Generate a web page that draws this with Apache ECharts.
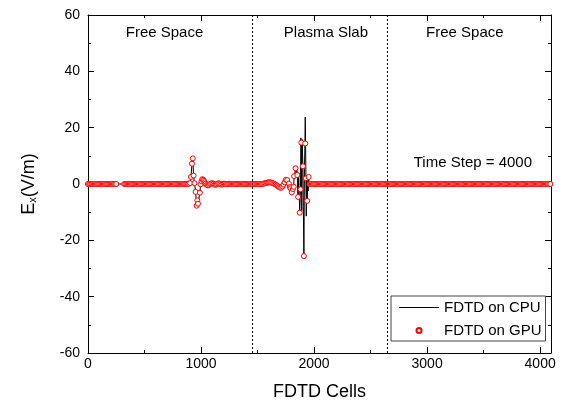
<!DOCTYPE html>
<html><head><meta charset="utf-8">
<script src="https://cdn.jsdelivr.net/npm/echarts@6/dist/echarts.min.js"></script>
<style>html,body{margin:0;padding:0;background:#fff}#c{width:563px;height:407px}</style>
</head><body><div id="c"></div>
<script>
const FONT = '"Liberation Sans", Arial, Helvetica, sans-serif';

// ---- axes ----
const cellMin = 0, cellMax = 4096, cellInterval = 1000;
const exMin = -60, exMax = 60, exInterval = 20;

// ---- region boundaries (dotted lines) ----
const slabBounds = [1450, 2650];

// ---- baseline GPU markers every N cells (value 0) ----
const baselineStep = 10;
const gpuGap = [260, 310];  // small white gap in the marker band

// ---- first pulse in free space [cell, Ex] (both solvers) ----
const pulse1 = [[880,0],[890,0.1],[903,0.3],[911,2.5],[920,7.2],[927,9.1],[934,3.0],[942,0.3],
  [952,-2.8],[961,-7.7],[967,-5.8],[973,-7.0],[990,-3.1],[996,-0.1],[1004,1.0],[1011,1.7],
  [1018,1.5],[1026,1.1],[1033,0.6],[1040,0.1],[1050,-0.3],[1061,-0.5],[1070,-0.3],[1080,0.0],
  [1090,0.2],[1100,0.3],[1110,0.1],[1120,-0.2],[1130,-0.3],[1140,-0.1],[1150,0.2],[1160,0.2],
  [1170,0.0],[1180,-0.2],[1190,-0.1],[1200,0.1],[1210,0.1],[1220,0.0],[1230,-0.1],[1240,0.0],
  [1250,0.1],[1260,0],[1270,0],[1280,0],[1290,0],[1300,0]];

// ---- weak wave ahead of the slab pulse [cell, Ex] ----
const preSlab = [[1540,0],[1550,0.1],[1560,0.2],[1570,0.3],[1580,0.4],[1590,0.5],[1600,0.6],
  [1610,0.6],[1620,0.5],[1630,0.4],[1640,0.2],[1650,0.0],[1660,-0.2],[1670,-0.5],[1680,-0.8],
  [1690,-1.1],[1700,-1.3],[1710,-1.3],[1720,-0.9],[1730,-0.2],[1740,0.6],[1750,1.5]];

// ---- pulse inside the plasma slab: GPU samples [cell, Ex] ----
const slabGpu = [[1762,1.4],[1777,0.1],[1786,-1.1],[1792,-1.5],[1803,-3.0],[1812,-1.8],[1820,-1.0],
  [1823,2.8],[1836,5.6],[1852,3.2],[1859,-4.6],[1873,-10.2],[1880,-1.9],[1887,14.7],[1901,6.3],
  [1910,-25.6],[1922,14.4],[1928,2.0],[1939,-6.0],[1952,2.5]];

// ---- pulse inside the plasma slab: CPU samples [cell, Ex] ----
const slabCpu = [[1756,1.7],[1762,1.4],[1770,0.6],[1777,0.1],[1786,-1.1],[1792,-1.5],[1800,-2.9],
  [1806,-3.1],[1812,-1.8],[1820,-1.0],[1823,2.8],[1830,4.0],[1836,5.6],[1842,3.5],[1848,4.8],
  [1852,3.2],[1856,-3.8],[1859,-4.6],[1864,3.8],[1868,4.4],[1873,-10.2],[1877,-10.8],[1880,-1.9],
  [1883,16.4],[1887,14.7],[1891,-9.5],[1895,15.8],[1901,6.3],[1905,-8.0],[1910,-25.6],[1915,5.0],
  [1919,14.4],[1922,23.8],[1925,14.4],[1928,2.0],[1931,-11.4],[1935,3.0],[1939,-6.0],[1944,1.5],
  [1948,-2.5],[1952,2.5],[1956,0.5],[1962,0]];

// ---- annotations [text, cell, Ex] ----
const notes = [['Free Space', 677, 53.6], ['Plasma Slab', 2105, 53.6], ['Free Space', 3334, 53.6], ['Time Step = 4000', 3405, 7.5]];

// ---- build series ----
const segs = [pulse1, preSlab, slabGpu];
const covered = c => (c >= gpuGap[0] && c <= gpuGap[1]) ||
  segs.some(s => c >= s[0][0] - 5 && c <= s[s.length - 1][0] + 5) || (c > 1750 && c < 1762);
const gpuData = [];
for (let c = cellMin; c <= cellMax; c += baselineStep) if (!covered(c)) gpuData.push([c, 0]);
segs.forEach(s => s.forEach(p => gpuData.push(p)));
gpuData.sort((a, b) => a[0] - b[0]);

const cpuData = [[cellMin, 0]].concat(pulse1, preSlab, slabCpu, [[cellMax, 0]]);

const chart = echarts.init(document.getElementById('c'), null, {renderer: 'canvas'});
const plain = v => String(v);
const axisCommon = {
  type: 'value', min: cellMin, max: cellMax, interval: cellInterval,
  axisLine: {show: true, onZero: false, lineStyle: {color: '#000', width: 1}},
  axisTick: {show: true, inside: true, length: 6, lineStyle: {color: '#000'}},
  minorTick: {show: true, splitNumber: 2, length: 3, lineStyle: {color: '#000'}},
  splitLine: {show: false}
};
const yCommon = Object.assign({}, axisCommon, {min: exMin, max: exMax, interval: exInterval});

chart.setOption({
  animation: false,
  backgroundColor: '#fff',
  grid: {left: 88, right: 12, top: 15, bottom: 54, containLabel: false},
  textStyle: {fontFamily: FONT},
  xAxis: [
    Object.assign({}, axisCommon, {
      position: 'bottom',
      name: 'FDTD Cells', nameLocation: 'middle', nameGap: 30,
      nameTextStyle: {fontSize: 18, color: '#000', fontFamily: FONT},
      axisLabel: {show: true, margin: 4, fontSize: 14, color: '#000', fontFamily: FONT, showMaxLabel: false, formatter: plain}
    }),
    Object.assign({}, axisCommon, {position: 'top', axisLabel: {show: false}})
  ],
  yAxis: [
    Object.assign({}, yCommon, {
      position: 'left',
      name: '{e|E}{s|x}{e|(V/m)}', nameLocation: 'middle', nameGap: 50, nameRotate: 90,
      nameTextStyle: {color: '#000', fontFamily: FONT, rich: {
        e: {fontSize: 18, lineHeight: 18, color: '#000', fontFamily: FONT, verticalAlign: 'bottom'},
        s: {fontSize: 11, lineHeight: 6, color: '#000', fontFamily: FONT, verticalAlign: 'bottom'}
      }},
      axisLabel: {show: true, margin: 8, fontSize: 14, color: '#000', fontFamily: FONT, formatter: plain}
    }),
    Object.assign({}, yCommon, {position: 'right', axisLabel: {show: false}})
  ],
  legend: {
    orient: 'vertical', left: 391, top: 296,
    itemWidth: 40, itemHeight: 5, itemGap: 8, itemTextGap: 6,
    padding: [4, 4, 3, 8],
    borderColor: '#444', borderWidth: 1, backgroundColor: '#fff',
    textStyle: {fontSize: 15, color: '#000', fontFamily: FONT},
    data: [{name: 'FDTD on CPU', icon: 'path://M0,0 L40,0 L40,1 L0,1 Z', itemStyle: {color: '#000'}}, 'FDTD on GPU']
  },
  series: [
    {
      name: 'FDTD on CPU', type: 'line', data: cpuData, symbol: 'none', showSymbol: false,
      lineStyle: {color: '#000', width: 1}, itemStyle: {color: '#000'}, z: 2,
      markLine: {
        silent: true, symbol: 'none', label: {show: false},
        lineStyle: {color: '#000', width: 1, type: [2, 2]},
        data: slabBounds.map(v => ({xAxis: v}))
      }
    },
    {
      name: 'FDTD on GPU', type: 'scatter', data: gpuData, symbol: 'circle', symbolSize: 5,
      itemStyle: {color: '#fff', borderColor: '#ff0000', borderWidth: 1, opacity: 1}, z: 3
    }
  ]
});

const graphics = notes.map(n => {
  const p = chart.convertToPixel({xAxisIndex: 0, yAxisIndex: 0}, [n[1], n[2]]);
  return {type: 'text', x: p[0], y: p[1], z: 10,
    style: {text: n[0], fontSize: 15, fontFamily: FONT, fill: '#000', align: 'center', verticalAlign: 'middle'}};
});
chart.setOption({graphic: graphics});
</script></body></html>
